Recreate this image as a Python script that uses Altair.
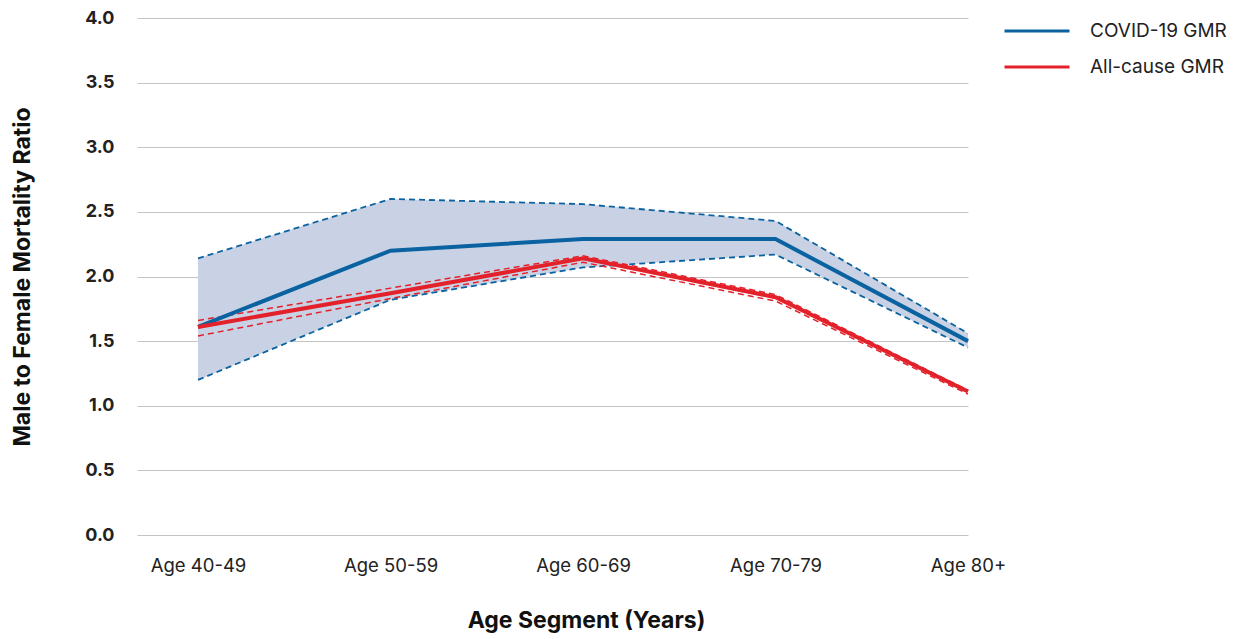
import altair as alt
import pandas as pd

# Age segments (x axis categories)
ages = ["Age 40-49", "Age 50-59", "Age 60-69", "Age 70-79", "Age 80+"]

# COVID-19 geometric mean ratio with confidence bounds
covid = [1.61, 2.20, 2.29, 2.29, 1.50]
covid_lo = [1.20, 1.82, 2.07, 2.17, 1.45]
covid_hi = [2.14, 2.60, 2.56, 2.43, 1.56]

# All-cause geometric mean ratio with confidence bounds
allcause = [1.61, 1.87, 2.14, 1.84, 1.11]
allcause_lo = [1.54, 1.83, 2.11, 1.81, 1.09]
allcause_hi = [1.66, 1.91, 2.16, 1.86, 1.12]

series_names = ["COVID-19 GMR", "All-cause GMR"]
BLUE = "#0a62a0"
RED = "#e3212b"
BAND = "#c9d2e4"
FONT = "Inter"

rows = []
for i, a in enumerate(ages):
    rows.append(dict(idx=i, age=a, series=series_names[0], value=covid[i], lo=covid_lo[i], hi=covid_hi[i]))
    rows.append(dict(idx=i, age=a, series=series_names[1], value=allcause[i], lo=allcause_lo[i], hi=allcause_hi[i]))
df = pd.DataFrame(rows)

label_expr = "[" + ",".join("'%s'" % a for a in ages) + "][datum.value]"

x_enc = alt.X(
    "idx:Q",
    scale=alt.Scale(domain=[-0.317, 4], nice=False, zero=False),
    axis=alt.Axis(
        values=[0, 1, 2, 3, 4],
        labelExpr=label_expr,
        labelFlush=False,
        labelOverlap=False,
        title="Age Segment (Years)",
        grid=False,
        domain=False,
        ticks=False,
        labelPadding=21,
        labelFontSize=18.5,
        labelFont=FONT,
        labelColor="#222222",
        titleFontSize=23,
        titleFont=FONT,
        titleFontWeight="bold",
        titleColor="#111111",
        titleX=449,
        titleY=85,
        titleAlign="center",
        titleBaseline="middle",
    ),
)

y_scale = alt.Scale(domain=[0, 4], nice=False)
y_axis = alt.Axis(
    values=[0, 0.5, 1, 1.5, 2, 2.5, 3, 3.5, 4],
    format=".1f",
    title="Male to Female Mortality Ratio",
    grid=True,
    gridColor="#c4c4c4",
    gridWidth=1,
    domain=False,
    ticks=False,
    labelPadding=23,
    labelFontSize=18,
    labelFont=FONT,
    labelFontWeight="bold",
    labelColor="#222222",
    titleFontSize=23,
    titleFont=FONT,
    titleFontWeight="bold",
    titleColor="#111111",
    titleX=-115,
    titleBaseline="middle",
)

base = alt.Chart(df)

band = base.transform_filter(alt.datum.series == series_names[0]).mark_area(
    color=BAND, opacity=1
).encode(
    x=x_enc,
    y=alt.Y("hi:Q", scale=y_scale, axis=y_axis),
    y2="lo:Q",
)


def dashed(series, field, color, width):
    return base.transform_filter(alt.datum.series == series).mark_line(
        color=color, strokeDash=[6, 4], strokeWidth=width
    ).encode(x=x_enc, y=alt.Y(f"{field}:Q", scale=y_scale, axis=y_axis))


blue_hi = dashed(series_names[0], "hi", BLUE, 1.8)
blue_lo = dashed(series_names[0], "lo", BLUE, 1.8)
red_hi = dashed(series_names[1], "hi", RED, 1.5)
red_lo = dashed(series_names[1], "lo", RED, 1.5)

solid = base.mark_line(strokeWidth=4).encode(
    x=x_enc,
    y=alt.Y("value:Q", scale=y_scale, axis=y_axis),
    color=alt.Color(
        "series:N",
        scale=alt.Scale(domain=series_names, range=[BLUE, RED]),
        sort=series_names,
        legend=alt.Legend(
            title=None,
            orient="none",
            legendX=866,
            legendY=3,
            symbolType="stroke",
            symbolSize=4225,
            symbolStrokeWidth=3,
            clipHeight=20,
            rowPadding=16,
            labelOffset=19,
            labelFontSize=19,
            labelFont=FONT,
            labelColor="#222222",
            padding=0,
        ),
    ),
    order=alt.Order("series:N", sort="descending"),
)

chart = alt.layer(band, blue_hi, blue_lo, red_hi, red_lo, solid).properties(
    width=831,
    height=517,
    autosize=alt.AutoSizeParams(type="none"),
    padding={"left": 137, "top": 18, "right": 270, "bottom": 104},
    background="white",
).configure_view(stroke=None)

chart.save("out.html", embed_options={"renderer": "svg", "actions": False})
